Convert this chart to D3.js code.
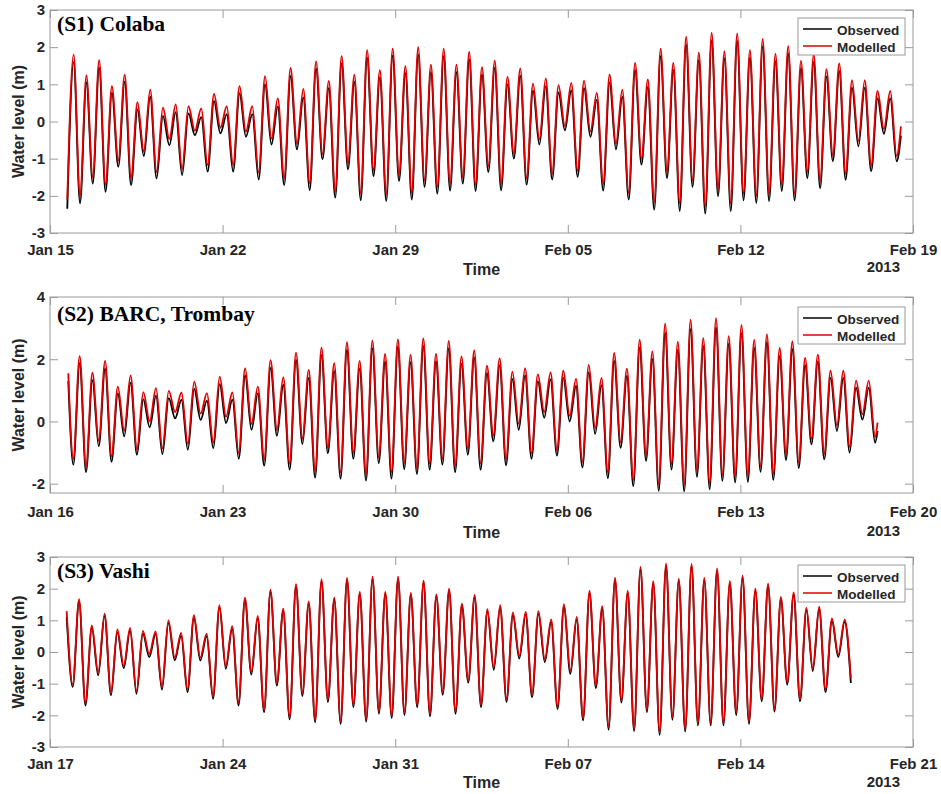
<!DOCTYPE html>
<html>
<head>
<meta charset="utf-8">
<script src="https://cdn.jsdelivr.net/npm/d3@7"></script>
<style>
    body { margin: 0; background: #fff; }
    svg text { font-family: "Liberation Sans", Arial, sans-serif; font-weight: bold; fill: #262626; }
    .title { font-family: "Liberation Serif", "Times New Roman", serif !important; fill: #000 !important; }
</style>
</head>
<body>
<script>
    // ---- data (high / low waters, metres) ----
    const titles = ["(S1) Colaba", "(S2) BARC, Trombay", "(S3) Vashi"];
    const legendLabels = ["Observed", "Modelled"];
    const axisStarts = ["2013-01-15T00:00", "2013-01-16T00:00", "2013-01-17T00:00"];
    const yTicks1 = [-3, -2, -1, 0, 1, 2, 3];
    const yTicks2 = [-2, 0, 2, 4];
    const yTicks3 = [-3, -2, -1, 0, 1, 2, 3];

    // S1 Colaba: first low 15 Jan 16:48, extremes every ~6.21 h
    const s1FirstLow = "2013-01-15T16:48";
    const s1LowObs = [-2.35, -2.2, -1.67, -1.89, -1.22, -1.71, -0.93, -1.53, -0.64, -1.44,
        -0.37, -1.35, -0.32, -1.35, -0.41, -1.56, -0.62, -1.71, -0.75, -1.85,
        -1.02, -2.05, -1.29, -2.12, -1.47, -2.14, -1.6, -2.1, -1.76, -1.94,
        -1.86, -1.67, -1.87, -1.36, -1.85, -1.0, -1.7, -0.62, -1.56, -0.24,
        -1.49, -0.41, -1.86, -0.75, -2.1, -1.16, -2.37, -1.52, -2.41, -1.76,
        -2.48, -2.01, -2.41, -2.12, -2.19, -2.14, -1.87, -2.12, -1.52, -1.79,
        -1.07, -1.57, -0.67, -1.34, -0.33, -1.07];
    const s1LowMod = [-2.1, -2.0, -1.5, -1.7, -1.05, -1.52, -0.8, -1.36, -0.47, -1.28,
        -0.25, -1.17, -0.17, -1.17, -0.27, -1.38, -0.46, -1.52, -0.6, -1.66,
        -0.88, -1.87, -1.12, -1.93, -1.3, -1.95, -1.43, -1.92, -1.58, -1.76,
        -1.68, -1.5, -1.7, -1.2, -1.67, -0.86, -1.53, -0.48, -1.4, -0.12,
        -1.32, -0.27, -1.68, -0.6, -1.92, -1.0, -2.17, -1.35, -2.2, -1.58,
        -2.27, -1.83, -2.2, -1.93, -2.0, -1.95, -1.7, -1.94, -1.35, -1.6,
        -0.92, -1.4, -0.53, -1.19, -0.2, -0.93];
    const s1HighObs = [1.6, 1.05, 1.45, 0.77, 1.07, 0.33, 0.67, 0.15, 0.25, 0.22,
        0.12, 0.55, 0.2, 0.76, 0.2, 1.0, 0.4, 1.22, 0.65, 1.42,
        0.9, 1.56, 1.07, 1.72, 1.18, 1.77, 1.3, 1.8, 1.33, 1.76,
        1.33, 1.67, 1.26, 1.44, 1.0, 1.23, 0.83, 0.95, 0.78, 0.84,
        0.9, 0.58, 1.05, 0.66, 1.38, 0.93, 1.76, 1.38, 2.07, 1.65,
        2.18, 1.7, 2.17, 1.72, 2.02, 1.62, 1.83, 1.43, 1.6, 1.21,
        1.36, 0.91, 0.91, 0.62, 0.62];
    const s1HighMod = [1.8, 1.24, 1.65, 0.95, 1.26, 0.52, 0.86, 0.37, 0.46, 0.41,
        0.35, 0.74, 0.41, 0.95, 0.41, 1.22, 0.62, 1.44, 0.88, 1.62,
        1.09, 1.76, 1.26, 1.92, 1.38, 1.96, 1.49, 2.0, 1.53, 1.96,
        1.53, 1.87, 1.46, 1.64, 1.2, 1.43, 1.02, 1.16, 0.98, 1.04,
        1.1, 0.77, 1.26, 0.86, 1.58, 1.13, 1.96, 1.58, 2.28, 1.85,
        2.39, 1.89, 2.37, 1.92, 2.22, 1.82, 2.03, 1.63, 1.81, 1.41,
        1.56, 1.11, 1.11, 0.82, 0.82];
    const s1Head = null;
    const s1Tail = {time: "2013-02-18T12:15", obs: -0.38, mod: -0.13};

    // S2 BARC, Trombay
    const s2FirstLow = "2013-01-16T22:41";
    const s2LowObs = [-1.39, -1.63, -0.8, -1.3, -0.48, -1.07, -0.19, -1.05, 0.1, -0.91,
        0.05, -0.86, -0.05, -1.2, -0.27, -1.42, -0.46, -1.55, -0.73, -1.8,
        -1.02, -1.84, -1.2, -1.9, -1.34, -1.84, -1.53, -1.69, -1.55, -1.39,
        -1.63, -1.07, -1.55, -0.64, -1.41, -0.27, -1.2, 0.12, -1.1, 0.0,
        -1.48, -0.4, -1.83, -0.85, -2.08, -1.27, -2.23, -1.55, -2.25, -1.78,
        -2.18, -1.91, -1.96, -1.94, -1.62, -1.88, -1.24, -1.5, -0.74, -1.22,
        -0.31, -1.0, 0.06, -0.68];
    const s2LowMod = [-1.2, -1.45, -0.62, -1.12, -0.3, -0.9, 0.0, -0.87, 0.3, -0.72,
        0.25, -0.68, 0.15, -1.02, -0.08, -1.22, -0.27, -1.35, -0.55, -1.6,
        -0.85, -1.63, -1.0, -1.7, -1.15, -1.63, -1.33, -1.5, -1.35, -1.2,
        -1.43, -0.88, -1.35, -0.45, -1.22, -0.08, -1.02, 0.3, -0.92, 0.18,
        -1.3, -0.22, -1.63, -0.67, -1.88, -1.1, -2.02, -1.36, -2.04, -1.59,
        -1.98, -1.72, -1.76, -1.75, -1.44, -1.69, -1.06, -1.32, -0.56, -1.04,
        -0.13, -0.82, 0.23, -0.5];
    const s2HighObs = [1.87, 1.33, 1.7, 0.9, 1.25, 0.72, 0.83, 0.75, 0.7, 1.05,
        0.67, 1.2, 0.7, 1.48, 0.9, 1.72, 1.18, 1.97, 1.4, 2.13,
        1.62, 2.3, 1.7, 2.35, 1.92, 2.4, 1.9, 2.42, 1.93, 2.35,
        1.85, 2.05, 1.55, 1.8, 1.37, 1.48, 1.29, 1.35, 1.4, 1.14,
        1.58, 1.17, 1.95, 1.46, 2.37, 2.0, 2.85, 2.3, 2.97, 2.42,
        3.02, 2.49, 2.83, 2.36, 2.55, 2.1, 2.32, 1.8, 1.92, 1.4,
        1.4, 1.09, 1.09];
    const s2HighMod = [2.1, 1.57, 1.95, 1.12, 1.48, 0.94, 1.07, 0.98, 0.93, 1.28,
        0.91, 1.44, 0.93, 1.71, 1.12, 1.97, 1.42, 2.21, 1.66, 2.37,
        1.87, 2.55, 1.95, 2.6, 2.17, 2.64, 2.14, 2.67, 2.17, 2.59,
        2.09, 2.28, 1.79, 2.03, 1.6, 1.71, 1.51, 1.58, 1.63, 1.37,
        1.82, 1.4, 2.2, 1.7, 2.63, 2.25, 3.14, 2.56, 3.27, 2.68,
        3.32, 2.74, 3.1, 2.62, 2.8, 2.36, 2.57, 2.04, 2.15, 1.63,
        1.63, 1.31, 1.31];
    const s2Head = {time: "2013-01-16T17:48", obs: 1.3, mod: 1.55};
    const s2Tail = {time: "2013-02-18T13:30", obs: -0.3, mod: -0.04};

    // S3 Vashi
    const s3FirstLow = "2013-01-17T22:05";
    const s3LowObs = [-1.1, -1.69, -0.74, -1.37, -0.51, -1.32, -0.16, -1.19, -0.26, -1.27,
        -0.27, -1.48, -0.53, -1.69, -0.71, -1.9, -1.06, -2.13, -1.39, -2.22,
        -1.58, -2.27, -1.74, -2.2, -1.95, -2.08, -1.99, -1.74, -2.03, -1.35,
        -1.95, -0.97, -1.74, -0.56, -1.58, -0.21, -1.43, -0.32, -1.8, -0.69,
        -2.16, -1.14, -2.45, -1.6, -2.5, -1.9, -2.62, -2.14, -2.51, -2.32,
        -2.32, -2.32, -1.99, -2.27, -1.56, -1.88, -1.03, -1.56, -0.6, -1.27,
        -0.16];
    const s3LowMod = [-1.02, -1.6, -0.66, -1.28, -0.43, -1.24, -0.06, -1.1, -0.18, -1.18,
        -0.18, -1.4, -0.45, -1.6, -0.63, -1.82, -0.98, -2.05, -1.3, -2.14,
        -1.5, -2.18, -1.66, -2.12, -1.87, -2.0, -1.9, -1.66, -1.95, -1.27,
        -1.87, -0.9, -1.66, -0.48, -1.5, -0.13, -1.35, -0.23, -1.72, -0.6,
        -2.08, -1.06, -2.37, -1.52, -2.42, -1.82, -2.53, -2.06, -2.43, -2.24,
        -2.24, -2.24, -1.9, -2.18, -1.48, -1.8, -0.95, -1.48, -0.52, -1.18,
        -0.08];
    const s3HighObs = [1.6, 0.76, 1.14, 0.62, 0.68, 0.58, 0.57, 0.92, 0.52, 1.08,
        0.5, 1.4, 0.74, 1.64, 1.06, 1.9, 1.3, 2.07, 1.53, 2.22,
        1.65, 2.27, 1.83, 2.3, 1.83, 2.3, 1.8, 2.18, 1.75, 1.93,
        1.46, 1.72, 1.28, 1.4, 1.17, 1.19, 1.21, 0.95, 1.43, 1.03,
        1.86, 1.37, 2.28, 1.86, 2.62, 2.17, 2.72, 2.25, 2.7, 2.27,
        2.57, 2.17, 2.34, 1.93, 2.09, 1.67, 1.8, 1.33, 1.35, 0.98,
        0.95];
    const s3HighMod = [1.67, 0.84, 1.21, 0.71, 0.76, 0.67, 0.65, 1.0, 0.6, 1.16,
        0.58, 1.48, 0.82, 1.72, 1.14, 1.97, 1.37, 2.14, 1.6, 2.29,
        1.72, 2.34, 1.9, 2.38, 1.9, 2.38, 1.87, 2.25, 1.82, 2.0,
        1.53, 1.8, 1.35, 1.48, 1.25, 1.27, 1.29, 1.03, 1.51, 1.11,
        1.93, 1.45, 2.35, 1.93, 2.69, 2.24, 2.8, 2.32, 2.78, 2.34,
        2.64, 2.24, 2.41, 2.0, 2.16, 1.74, 1.88, 1.4, 1.43, 1.06,
        1.02];
    const s3Head = {time: "2013-01-17T16:15", obs: 1.1, mod: 1.29};
    const s3Tail = {time: "2013-02-18T11:30", obs: -0.98, mod: -0.82};

    const parse = d3.utcParse("%Y-%m-%dT%H:%M");

    // low, high, low, high ... spaced by the half tidal cycle
    function buildSeries(firstLow, stepHours, lows, highs, head, tail, key) {
        const t0 = parse(firstLow);
        const pts = [];
        if (head) pts.push({t: parse(head.time), v: head[key]});
        lows.forEach((lo, i) => {
            pts.push({t: d3.utcMinute.offset(t0, Math.round(2 * i * stepHours * 60)), v: lo});
            if (i < highs.length)
                pts.push({t: d3.utcMinute.offset(t0, Math.round((2 * i + 1) * stepHours * 60)), v: highs[i]});
        });
        pts.push({t: parse(tail.time), v: tail[key]});
        return pts;
    }

    const panels = [
        {top: 10, bottom: 233, yDomain: [-3, 3], yTicks: yTicks1, tickGap: 21.5, timeGap: 42, yearGap: 39, titleGap: 21, legGap: 8,
         obs: buildSeries(s1FirstLow, 6.21, s1LowObs, s1HighObs, s1Head, s1Tail, "obs"),
         mod: buildSeries(s1FirstLow, 6.21, s1LowMod, s1HighMod, s1Head, s1Tail, "mod")},
        {top: 297, bottom: 493, yDomain: [-2.3, 4], yTicks: yTicks2, tickGap: 23.5, timeGap: 45, yearGap: 43, titleGap: 24, legGap: 10,
         obs: buildSeries(s2FirstLow, 6.194, s2LowObs, s2HighObs, s2Head, s2Tail, "obs"),
         mod: buildSeries(s2FirstLow, 6.194, s2LowMod, s2HighMod, s2Head, s2Tail, "mod")},
        {top: 557, bottom: 747, yDomain: [-3, 3], yTicks: yTicks3, tickGap: 22, timeGap: 41, yearGap: 40, titleGap: 21, legGap: 8,
         obs: buildSeries(s3FirstLow, 6.21, s3LowObs, s3HighObs, s3Head, s3Tail, "obs"),
         mod: buildSeries(s3FirstLow, 6.21, s3LowMod, s3HighMod, s3Head, s3Tail, "mod")}
    ];

    const width = 941, height = 794;
    const left = 50, right = 913;
    const axisGray = '#9a9a9a';
    const colors = ['#000000', '#e00000'];

    const svg = d3.select('body').append('svg')
        .attr('width', width)
        .attr('height', height);

    panels.forEach((p, i) => {
        const x0 = parse(axisStarts[i]);
        const xScale = d3.scaleUtc()
            .domain([x0, d3.utcDay.offset(x0, 35)])
            .range([left, right]);
        const yScale = d3.scaleLinear()
            .domain(p.yDomain)
            .range([p.bottom, p.top]);
        const weekTicks = d3.range(6).map(k => d3.utcDay.offset(x0, 7 * k));

        const g = svg.append('g');

        // clip for the curves
        g.append('clipPath').attr('id', 'clip' + i)
            .append('rect')
            .attr('x', left).attr('y', p.top)
            .attr('width', right - left).attr('height', p.bottom - p.top);

        // axes (inward ticks on all four sides, MATLAB box style)
        const xAxis = d3.axisBottom(xScale).tickValues(weekTicks)
            .tickFormat(d3.utcFormat('%b %d')).tickSizeInner(-8).tickSizeOuter(0);
        const xTop = d3.axisTop(xScale).tickValues(weekTicks)
            .tickFormat('').tickSizeInner(-8).tickSizeOuter(0);
        const yAxis = d3.axisLeft(yScale).tickValues(p.yTicks)
            .tickFormat(d => String(d)).tickSizeInner(-8).tickSizeOuter(0).tickPadding(5);
        const yRight = d3.axisRight(yScale).tickValues(p.yTicks)
            .tickFormat('').tickSizeInner(-8).tickSizeOuter(0);

        const xg = g.append('g').attr('transform', `translate(0, ${p.bottom})`).call(xAxis);
        xg.selectAll('text').attr('y', p.tickGap).attr('dy', null);
        g.append('g').attr('transform', `translate(0, ${p.top})`).call(xTop);
        g.append('g').attr('transform', `translate(${left}, 0)`).call(yAxis);
        g.append('g').attr('transform', `translate(${right}, 0)`).call(yRight);

        g.selectAll('.domain').remove();
        g.selectAll('.tick line').attr('stroke', axisGray);
        g.selectAll('.tick text')
            .attr('font-size', 15)
            .attr('font-family', null);

        g.append('rect')
            .attr('x', left).attr('y', p.top)
            .attr('width', right - left).attr('height', p.bottom - p.top)
            .attr('fill', 'none')
            .attr('stroke', axisGray);

        // series: observed first, modelled drawn on top
        const line = d3.line()
            .x(d => xScale(d.t))
            .y(d => yScale(d.v))
            .curve(d3.curveMonotoneX);

        [p.obs, p.mod].forEach((series, k) => {
            g.append('path')
                .datum(series)
                .attr('clip-path', `url(#clip${i})`)
                .attr('fill', 'none')
                .attr('stroke', colors[k])
                .attr('stroke-width', 1.8)
                .attr('stroke-linejoin', 'round')
                .attr('d', line);
        });

        // panel title
        g.append('text')
            .attr('class', 'title')
            .attr('x', 57)
            .attr('y', p.top + p.titleGap)
            .attr('font-size', '21.5px')
            .text(titles[i]);

        // axis labels
        g.append('text')
            .attr('transform', 'rotate(-90)')
            .attr('x', -(p.top + p.bottom) / 2)
            .attr('y', 24)
            .attr('text-anchor', 'middle')
            .attr('font-size', '16px')
            .text('Water level (m)');

        g.append('text')
            .attr('x', (left + right) / 2)
            .attr('y', p.bottom + p.timeGap)
            .attr('text-anchor', 'middle')
            .attr('font-size', '16px')
            .text('Time');

        g.append('text')
            .attr('x', 900)
            .attr('y', p.bottom + p.yearGap)
            .attr('text-anchor', 'end')
            .attr('font-size', '15px')
            .text(d3.utcFormat('%Y')(x0));

        // legend
        const ly = p.top + p.legGap;
        const leg = g.append('g');
        leg.append('rect')
            .attr('x', 798).attr('y', ly)
            .attr('width', 107).attr('height', 37)
            .attr('fill', '#fff')
            .attr('stroke', axisGray);
        legendLabels.forEach((lab, k) => {
            leg.append('line')
                .attr('x1', 803).attr('x2', 832)
                .attr('y1', ly + 11 + k * 17).attr('y2', ly + 11 + k * 17)
                .attr('stroke', colors[k])
                .attr('stroke-width', 1.5);
            leg.append('text')
                .attr('x', 837)
                .attr('y', ly + 16.5 + k * 17)
                .attr('font-size', '13.5px')
                .text(lab);
        });
    });
</script>
</body>
</html>
